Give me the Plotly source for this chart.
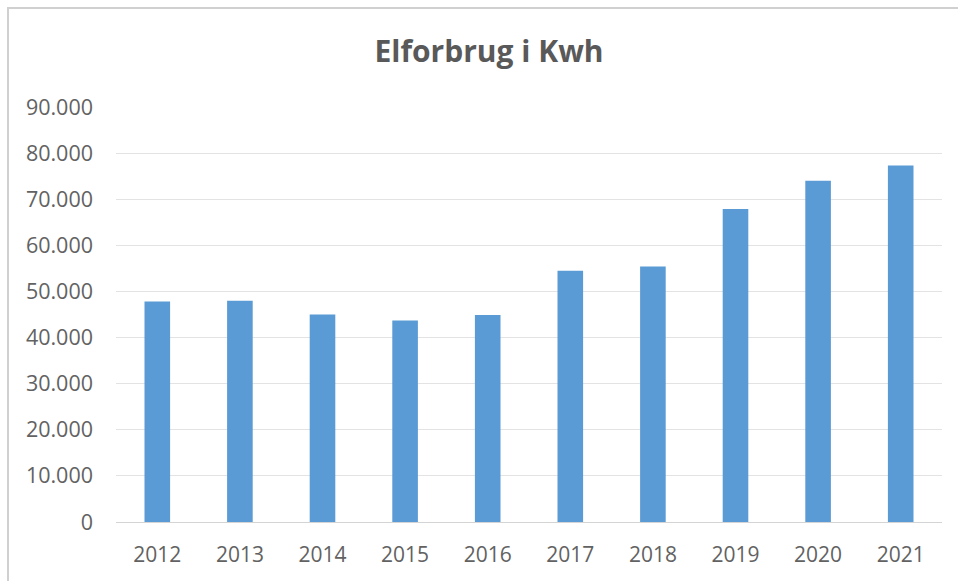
import plotly.graph_objects as go

years = ["2012", "2013", "2014", "2015", "2016", "2017", "2018", "2019", "2020", "2021"]
kwh = [47800, 48000, 45000, 43700, 44900, 54500, 55400, 67900, 74000, 77300]
title_text = "Elforbrug i Kwh"

W, H = 958, 581
L, R, T, B = 116, 16, 107, 59
pw, ph = W - L - R, H - T - B

def px(x):
    return (x - L) / pw

def py(y):
    return (H - B - y) / ph

fig = go.Figure()
fig.add_trace(go.Bar(x=years, y=kwh, marker=dict(color="#5b9bd5", line=dict(width=0)), width=0.31))

fig.update_layout(
    width=W, height=H,
    margin=dict(l=L, r=R, t=T, b=B),
    paper_bgcolor="white", plot_bgcolor="white",
    separators=",.",
    showlegend=False,
    title=dict(text="<b>" + title_text + "</b>", x=489 / W, xref="container", xanchor="center",
               y=1 - 51 / H, yanchor="middle", yref="container",
               font=dict(family="Open Sans", size=30, color="#595959")),
    font=dict(family="Open Sans", color="#595959"),
    xaxis=dict(showgrid=False, showline=False, ticks="", ticklabelstandoff=18,
               tickfont=dict(size=21, color="#626262")),
    yaxis=dict(range=[0, 90000], dtick=10000, tickformat=",d", showgrid=True,
               gridcolor="#e3e3e3", gridwidth=1, zeroline=True, zerolinecolor="#d4d4d4",
               zerolinewidth=1, showline=False, ticks="", ticklabelstandoff=22,
               tickfont=dict(size=21.5, color="#626262")),
    shapes=[dict(type="rect", xref="paper", yref="paper",
                 x0=px(8), x1=px(975), y0=py(600), y1=py(8),
                 line=dict(color="#d0d0d0", width=2), fillcolor="rgba(0,0,0,0)", layer="below")],
)

fig.write_html("out.html", post_script="document.body.style.margin='0';",
               config={"displayModeBar": False})
